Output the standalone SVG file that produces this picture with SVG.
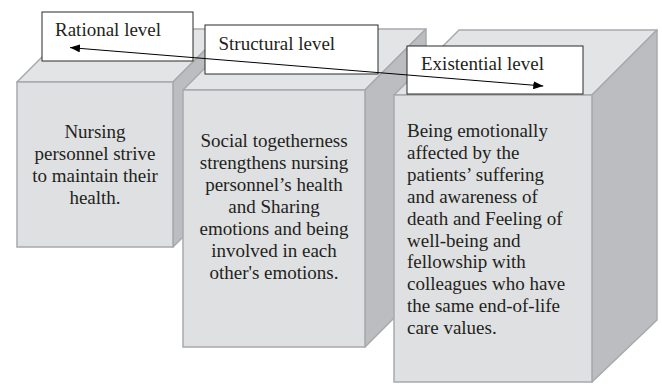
<svg xmlns="http://www.w3.org/2000/svg" width="662" height="384" viewBox="0 0 662 384">
<defs>
<style>
.front{fill:#dfe0e2;stroke:#a8a9ad;stroke-width:1.5}
.top{fill:#e3e4e6;stroke:#a8a9ad;stroke-width:1.5;stroke-linejoin:round}
.side{fill:#bcbdc1;stroke:#a8a9ad;stroke-width:1.5;stroke-linejoin:round}
.lbl{fill:#ffffff;stroke:#2a2a2a;stroke-width:1}
text{font-family:"Liberation Serif","Times New Roman",serif;font-size:19px;fill:#231f20}
.c{text-anchor:middle}
</style>
<marker id="ah" viewBox="0 0 10 8" refX="10" refY="4" markerWidth="10" markerHeight="8" markerUnits="userSpaceOnUse" orient="auto-start-reverse">
<path d="M0,0 L10,4 L0,8 Z" fill="#000"/>
</marker>
</defs>
<g id="box-rational">
<polygon class="top" points="17,82 70,29 226,29 173,82"/>
<polygon class="side" points="173,82 226,29 226,194 173,247"/>
<rect class="front" x="17" y="82" width="156" height="165"/>
<text class="c" x="95" y="137.5">Nursing</text>
<text class="c" x="95" y="159.8">personnel strive</text>
<text class="c" x="95" y="182.1">to maintain their</text>
<text class="c" x="95" y="204.4">health.</text>
</g>
<g id="box-structural">
<polygon class="top" points="183,90 244,29 426,29 365,90"/>
<polygon class="side" points="365,90 426,29 426,286 365,347"/>
<rect class="front" x="183" y="90" width="182" height="257"/>
<text class="c" x="274" y="146.7">Social togetherness</text>
<text class="c" x="274" y="168.8">strengthens nursing</text>
<text class="c" x="274" y="190.9">personnel’s health</text>
<text class="c" x="274" y="213">and Sharing</text>
<text class="c" x="274" y="235.1">emotions and being</text>
<text class="c" x="274" y="257.2">involved in each</text>
<text class="c" x="274" y="279.3">other's emotions.</text>
</g>
<g id="box-existential">
<polygon class="top" points="394,95 459,30 657,30 592,95"/>
<polygon class="side" points="592,95 657,30 657,320 592,382"/>
<rect class="front" x="394" y="95" width="198" height="287"/>
<text x="407" y="136.7">Being emotionally</text>
<text x="407" y="158.7">affected by the</text>
<text x="407" y="180.6">patients’ suffering</text>
<text x="407" y="202.6">and awareness of</text>
<text x="407" y="224.5">death and Feeling of</text>
<text x="407" y="246.5">well-being and</text>
<text x="407" y="268.4">fellowship with</text>
<text x="407" y="290.4">colleagues who have</text>
<text x="407" y="312.3">the same end-of-life</text>
<text x="407" y="334.3">care values.</text>
</g>
<g id="label-rational">
<rect class="lbl" x="42" y="12" width="151" height="49"/>
<text x="55" y="35.5">Rational level</text>
</g>
<g id="label-structural">
<rect class="lbl" x="205" y="25" width="173" height="49"/>
<text x="218.5" y="50">Structural level</text>
</g>
<g id="label-existential">
<rect class="lbl" x="407" y="46" width="176" height="48"/>
<text x="421" y="70">Existential level</text>
</g>
<g id="connectors">
<line x1="70" y1="47.6" x2="543.3" y2="86" stroke="#000" stroke-width="1" marker-start="url(#ah)" marker-end="url(#ah)"/>
</g>
</svg>
